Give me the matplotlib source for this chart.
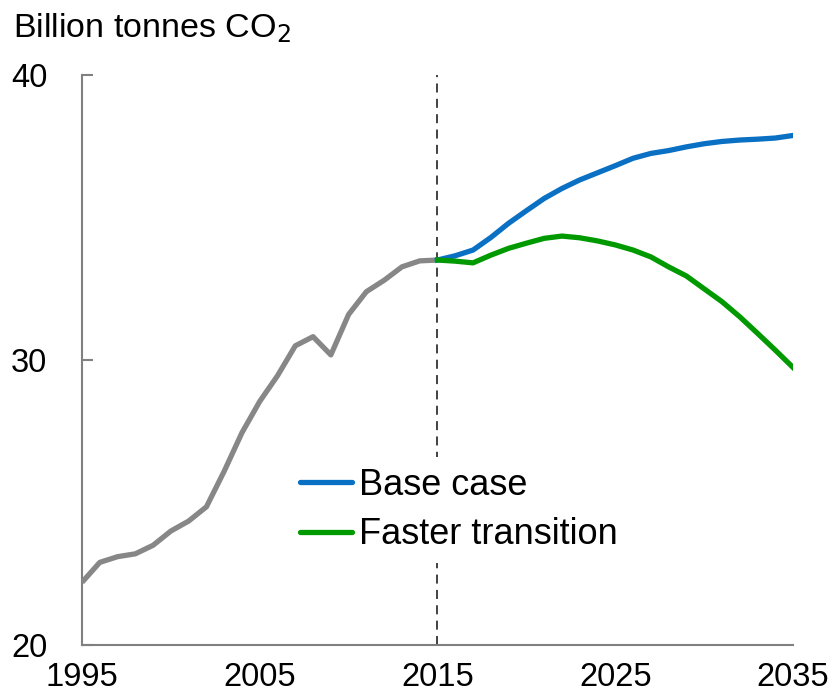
import numpy as np
import matplotlib.pyplot as plt

hist_years = list(range(1995, 2016))
hist_vals = [22.2, 22.9, 23.1, 23.2, 23.5, 24.0, 24.35, 24.85, 26.1, 27.45, 28.55,
             29.45, 30.5, 30.82, 30.18, 31.6, 32.4, 32.8, 33.27, 33.48, 33.51]

proj_years = list(range(2015, 2036))
base_case = [33.51, 33.66, 33.86, 34.3, 34.8, 35.24, 35.67, 36.02, 36.32, 36.57, 36.82,
             37.08, 37.25, 37.35, 37.48, 37.59, 37.67, 37.72, 37.75, 37.79, 37.88]
faster = [33.51, 33.47, 33.41, 33.68, 33.92, 34.1, 34.27, 34.35, 34.29, 34.18, 34.04,
          33.86, 33.62, 33.27, 32.95, 32.5, 32.05, 31.52, 30.94, 30.35, 29.74]

xticks = [1995, 2005, 2015, 2025, 2035]
yticks = [20, 30, 40]

plt.rcParams['font.family'] = ['Liberation Sans', 'DejaVu Sans']

fig = plt.figure(figsize=(8.35, 6.95), dpi=100)
ax = fig.add_axes([0.0982, 0.0719, 0.8515, 0.8201])

ax.axvline(2015, color='#333333', lw=1.3, ls=(0, (5, 3.5)), zorder=1)
ax.plot(hist_years, hist_vals, color='#878787', lw=3.8, solid_capstyle='butt', zorder=3)
ax.plot(proj_years, base_case, color='#0A70C4', lw=3.8, label='Base case', zorder=3)
ax.plot(proj_years, faster, color='#009A00', lw=3.8, label='Faster transition', zorder=4)

ax.set_xlim(1995, 2035)
ax.set_ylim(20, 40)
ax.set_xticks(xticks)
ax.set_yticks(yticks)
for s in ['top', 'right']:
    ax.spines[s].set_visible(False)
for s in ['left', 'bottom']:
    ax.spines[s].set_color('#808080')
    ax.spines[s].set_linewidth(1.5)

ax.tick_params(axis='y', direction='in', length=8, width=1.5, color='#808080',
               labelsize=23.5, pad=25)
ax.tick_params(axis='x', length=0, labelsize=23.5, pad=12.5)

fig.text(0.015, 0.946, 'Billion tonnes CO$_2$', fontsize=24.5, ha='left', va='baseline')

leg = ax.legend(loc='upper left', bbox_to_anchor=(0.291, 0.33), fontsize=26,
                frameon=True, facecolor='white', edgecolor='none', framealpha=1,
                handlelength=1.45, handletextpad=0.2, labelspacing=0.4,
                borderpad=0.3, borderaxespad=0)
for line in leg.get_lines():
    line.set_linewidth(3.8)
    line.set_solid_capstyle('round')

fig.savefig('out.png', dpi=100)
